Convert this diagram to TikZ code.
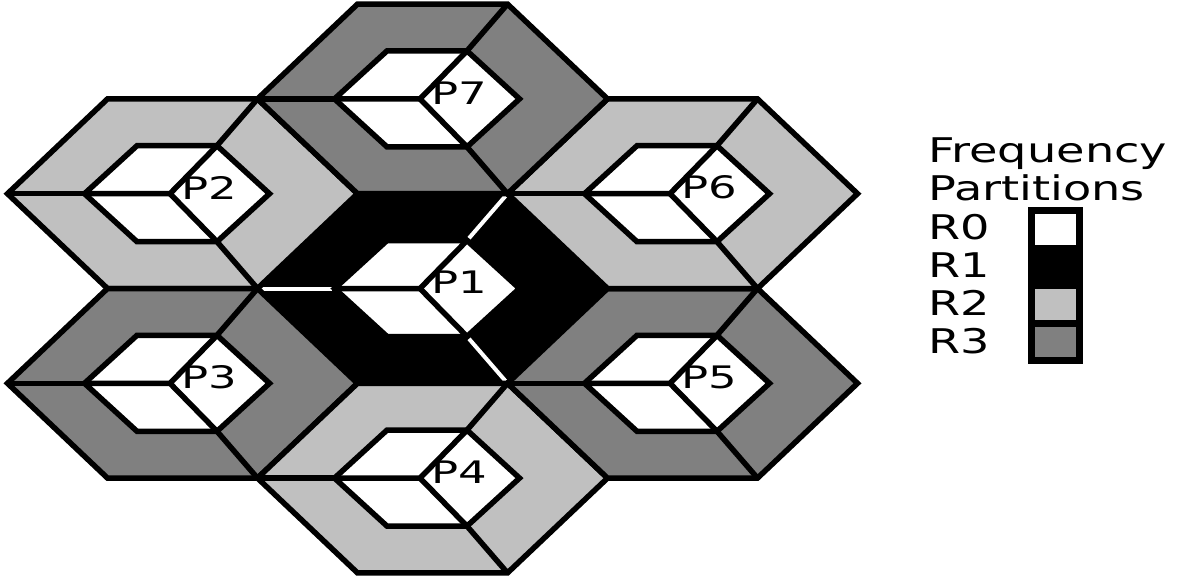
\documentclass[tikz,border=0pt]{standalone}
\usepackage{graphicx}
\usepackage{fontspec}
\setmainfont{DejaVu Sans}
\definecolor{rtwo}{gray}{0.753}
\definecolor{rthree}{gray}{0.5}
\tikzset{
	hexline/.style={line width=5.5pt},
	spokeB/.style={draw=black,line width=5.5pt},
	spokeW/.style={draw=white,line width=4pt,shorten <=3pt,shorten >=3pt},
	plabel/.style={inner sep=0pt,font=\fontsize{31}{31}\selectfont},
	legtext/.style={inner sep=0pt,anchor=base west,font=\fontsize{34}{34}\selectfont}
}

\begin{document}
\begin{tikzpicture}[x=1pt,y=-1pt]
	\useasboundingbox (0,0) rectangle (1177,581);
	% seven cells: centre, ring colour, spoke style, label
	\foreach \cx/\cy/\ring/\spk/\lbl in {432.5/288.5/black/spokeW/P1,
		182.5/193.7/rtwo/spokeB/P2, 182.5/383.3/rthree/spokeB/P3,
		432.5/478.1/rtwo/spokeB/P4, 682.5/383.3/rthree/spokeB/P5,
		682.5/193.7/rtwo/spokeB/P6, 432.5/98.9/rthree/spokeB/P7}{
	\begin{scope}[shift={(\cx,\cy)}]
		\filldraw[hexline,fill=\ring] (-175,0) -- (-75,-94.8) -- (75,-94.8)
			-- (175,0) -- (75,94.8) -- (-75,94.8) -- cycle;
		\draw[\spk] (-175,0) -- (-98,0);
		\draw[\spk] (75,-94.8) -- (34.5,-48);
		\draw[\spk] (75,94.8) -- (34.5,48);
		\filldraw[hexline,fill=white] (-98,0) -- (-45.5,-48) -- (34.5,-48)
			-- (87,0) -- (34.5,48) -- (-45.5,48) -- cycle;
		\draw[hexline] (-98,0) -- (-12.5,0) -- (34.5,-48);
		\draw[hexline] (-12.5,0) -- (34.5,48);
		\node[plabel] (\lbl) at (27,-6) {\scalebox{1.45}[1]{\lbl}};
	\end{scope}
	}
	% legend
	\node[legtext] (freq) at (928,162) {\scalebox{1.36}[1]{Frequency}};
	\node[legtext] (part) at (928,200) {\scalebox{1.36}[1]{Partitions}};
	\foreach \i/\col in {0/white,1/black,2/rtwo,3/rthree}{
		\node[legtext] (R\i) at (928,239+38.3*\i) {\scalebox{1.36}[1]{R\i}};
		\filldraw[line width=7pt,fill=\col] (1031.5,210.5+37.5*\i) rectangle (1079.5,248+37.5*\i);
	}
\end{tikzpicture}
\end{document}
